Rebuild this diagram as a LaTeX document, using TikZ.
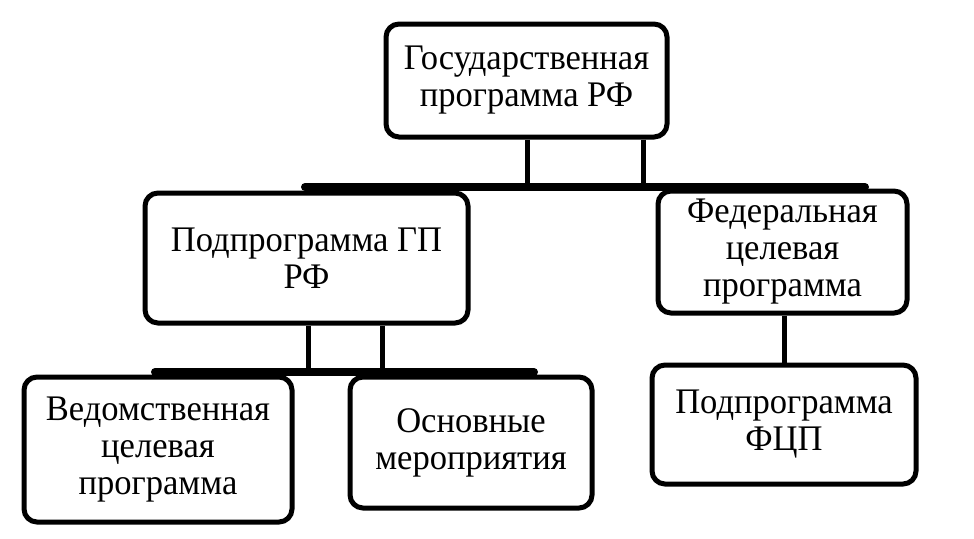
\documentclass[tikz,border=0pt]{standalone}
\usepackage{fontspec}
\setmainfont[FakeStretch=0.96]{Liberation Serif}
\begin{document}
\begin{tikzpicture}[x=1pt,y=-1pt,
  box/.style={draw=black, line width=5pt, rounded corners=13pt, align=center,
    font=\fontsize{36}{37}\selectfont, inner sep=0pt, anchor=center},
  conn/.style={draw=black, line width=5pt},
  barline/.style={draw=black, line width=8pt, line cap=round}]
\useasboundingbox (0,0) rectangle (974,538);
\node[box, minimum width=281pt, minimum height=113pt] (gp) at (526.5,80.5) {Государственная\\программа РФ};
\node[box, minimum width=323pt, minimum height=130pt] (pgp) at (306.5,258) {Подпрограмма ГП\\РФ};
\node[box, minimum width=249pt, minimum height=122pt] (fcp) at (782.5,252) {Федеральная\\целевая\\программа};
\node[box, minimum width=268pt, minimum height=145pt] (vcp) at (158,449.5) {Ведомственная\\целевая\\программа};
\node[box, minimum width=242pt, minimum height=131pt] (om) at (471,442.5) {Основные\\мероприятия};
\node[box, minimum width=264pt, minimum height=119pt] (pfcp) at (784,424.5) {Подпрограмма\\ФЦП};
\coordinate (b1l) at (305,187);
\coordinate (b1r) at (865,187);
\coordinate (v1) at (527,187);
\coordinate (v2) at (643,187);
\coordinate (b2l) at (155,372);
\coordinate (b2r) at (534,372);
\coordinate (w1) at (308,372);
\coordinate (w2) at (382,372);
\draw[barline] (b1l) -- (b1r);
\draw[barline] (b2l) -- (b2r);
\draw[conn] (gp.south -| v1) -- (v1);
\draw[conn] (gp.south -| v2) -- (v2);
\draw[conn] (pgp.south -| w1) -- (w1);
\draw[conn] (pgp.south -| w2) -- (w2);
\draw[conn] (fcp.south -| pfcp.north) -- (pfcp.north);
\end{tikzpicture}
\end{document}
